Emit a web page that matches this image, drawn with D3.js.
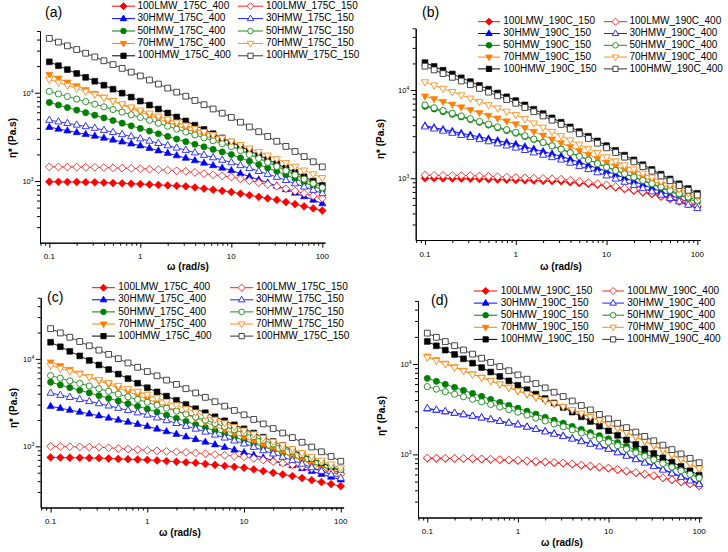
<!DOCTYPE html>
<html><head><meta charset="utf-8">
<script src="https://cdn.jsdelivr.net/npm/d3@7"></script>
<style>
body{margin:0;background:#fff}
svg{display:block}
text{font-family:"Liberation Sans",Arial,Helvetica,sans-serif;fill:#000}
</style>
</head><body>
<svg id="chart" width="728" height="552"></svg>
<script>
// ---------- data ----------
const omega = [0.1,0.126,0.158,0.2,0.251,0.316,0.398,0.501,0.631,0.794,1,1.26,1.58,2,2.51,3.16,3.98,5.01,6.31,7.94,10,12.6,15.8,20,25.1,31.6,39.8,50.1,63.1,79.4,100];
const xMajorTicks = [0.1,1,10,100];
const xTickLabels = ["0.1","1","10","100"];
const yMajorTicks = [1000,10000];
const yTickExponents = ["3","4"];
const materials = ["100LMW","30HMW","50HMW","70HMW","100HMW"];
const panelLabels = ["(a)","(b)","(c)","(d)"];
const panelTemps = ["175C","190C","175C","190C"];
const panelFilledRate = ["400","150","400","150"];
const panelOpenRate = ["150","400","150","400"];

// panel (a) 175C
const a_LMW400 = [980,978,976,974,970,966,957,948,940,931,923,912,902,891,881,871,845,820,796,773,750,719,690,662,635,610,577,546,516,489,462];
const a_LMW150 = [1445,1442,1439,1435,1432,1429,1419,1409,1400,1390,1380,1361,1343,1324,1306,1288,1250,1213,1178,1143,1109,1057,1007,959,914,871,818,769,723,679,638];
const a_30HMW400 = [4074,3890,3715,3548,3388,3236,3076,2924,2780,2642,2512,2355,2208,2070,1941,1820,1706,1600,1500,1406,1318,1216,1122,1035,955,881,804,733,668,610,556];
const a_30HMW150 = [4898,4699,4508,4325,4150,3981,3767,3565,3373,3192,3020,2844,2679,2523,2377,2239,2099,1968,1845,1730,1622,1503,1393,1291,1197,1109,1019,935,859,789,724];
const a_50HMW400 = [7762,7261,6792,6353,5943,5559,5188,4842,4519,4217,3936,3673,3428,3199,2985,2786,2606,2438,2280,2133,1995,1828,1675,1535,1406,1288,1169,1062,964,875,794];
const a_50HMW150 = [10350,9683,9057,8472,7925,7413,6918,6457,6026,5623,5248,4864,4508,4178,3873,3589,3327,3083,2858,2649,2455,2213,1995,1799,1622,1462,1309,1172,1050,940,841];
const a_70HMW400 = [16030,14520,13150,11910,10790,9772,8872,8054,7311,6637,6026,5521,5058,4634,4246,3890,3565,3266,2992,2742,2512,2265,2042,1841,1660,1496,1337,1194,1067,953,851];
const a_70HMW150 = [14130,13060,12080,11170,10330,9550,8790,8091,7447,6855,6310,5834,5395,4989,4613,4266,3926,3614,3327,3062,2818,2570,2344,2138,1950,1778,1611,1459,1321,1197,1084];
const a_100HMW400 = [22390,20230,18280,16520,14930,13490,12160,10960,9886,8913,8035,7244,6531,5888,5309,4786,4285,3837,3436,3076,2754,2460,2198,1963,1754,1567,1400,1250,1117,998,891];
const a_100HMW150 = [41210,37410,33960,30830,27990,25410,23010,20840,18880,17100,15490,13930,12530,11270,10140,9120,8166,7311,6546,5861,5248,4634,4093,3614,3192,2818,2466,2158,1888,1652,1445];

// panel (b) 190C
const b_LMW150 = [1000,998,995,993,991,989,982,975,968,962,955,948,942,935,929,923,902,881,861,841,822,787,753,721,690,661,619,581,545,511,479];
const b_LMW400 = [1084,1081,1079,1076,1074,1072,1062,1052,1042,1033,1023,1014,1005,995,986,977,948,920,893,867,841,805,771,738,706,676,632,592,553,518,484];
const b_30HMW150 = [3936,3750,3573,3404,3243,3090,2944,2805,2673,2547,2427,2280,2143,2014,1892,1778,1644,1521,1406,1300,1202,1102,1009,925,847,776,708,646,589,537,490];
const b_30HMW400 = [3846,3639,3443,3258,3083,2917,2761,2612,2472,2339,2213,2080,1954,1837,1726,1622,1493,1374,1265,1164,1072,986,908,836,769,708,649,594,545,499,457];
const b_50HMW150 = [6531,6095,5689,5309,4955,4624,4305,4009,3733,3475,3236,2979,2742,2523,2323,2138,1950,1778,1622,1479,1349,1233,1127,1030,942,861,783,713,649,590,537];
const b_50HMW400 = [6761,6295,5861,5458,5082,4732,4406,4102,3819,3556,3311,3034,2780,2547,2333,2138,1945,1770,1611,1466,1334,1225,1125,1033,948,871,798,731,670,614,562];
const b_70HMW150 = [8511,7925,7379,6871,6397,5957,5534,5140,4775,4436,4121,3733,3381,3062,2773,2512,2270,2051,1854,1675,1514,1374,1247,1132,1028,933,851,776,708,646,589];
const b_70HMW400 = [12300,11300,10380,9528,8750,8035,7379,6776,6223,5715,5248,4699,4207,3767,3373,3020,2704,2421,2168,1941,1738,1563,1406,1265,1138,1023,925,836,755,682,617];
const b_100HMW150 = [20420,18490,16750,15170,13740,12450,11270,10210,9247,8375,7586,6776,6053,5408,4831,4315,3819,3381,2992,2649,2344,2070,1828,1614,1426,1259,1112,982,867,766,676];
const b_100HMW400 = [18620,16900,15350,13930,12650,11480,10420,9462,8590,7798,7079,6339,5675,5082,4550,4074,3606,3192,2825,2500,2213,1959,1734,1535,1358,1202,1062,938,828,731,646];

// panel (c) 175C
const c_LMW400 = [748,745,741,740,736,733,726,719,713,706,700,689,678,667,656,646,630,614,598,583,569,545,521,499,478,457,434,411,390,370,351];
const c_LMW150 = [1000,995,991,986,982,977,962,946,931,916,902,889,877,865,853,841,824,807,791,774,759,728,698,670,643,617,587,558,532,506,482];
const c_30HMW400 = [2871,2729,2600,2472,2355,2239,2118,2004,1897,1795,1698,1585,1479,1380,1288,1202,1122,1047,977,912,851,794,741,692,646,603,560,519,482,447,415];
const c_30HMW150 = [4074,3855,3648,3451,3266,3090,2911,2742,2582,2432,2291,2128,1977,1837,1706,1585,1466,1355,1253,1159,1072,982,899,824,755,692,630,574,522,476,434];
const c_50HMW400 = [5408,5035,4699,4375,4083,3802,3540,3304,3076,2871,2673,2466,2270,2094,1928,1778,1637,1507,1387,1276,1175,1079,991,910,836,767,703,644,590,541,495];
const c_50HMW150 = [6442,6012,5610,5248,4898,4571,4256,3963,3681,3428,3192,2951,2729,2529,2339,2163,1991,1828,1683,1545,1422,1291,1175,1067,970,881,800,724,658,596,541];
const c_70HMW400 = [9162,8318,7534,6839,6194,5623,5105,4634,4207,3819,3467,3133,2831,2559,2312,2089,1888,1706,1542,1393,1259,1138,1028,929,839,759,687,622,562,509,461];
const c_70HMW150 = [8395,7780,7211,6699,6209,5754,5321,4932,4560,4227,3908,3565,3243,2958,2692,2455,2234,2028,1845,1675,1524,1380,1253,1135,1030,933,843,764,690,625,565];
const c_100HMW400 = [15490,13740,12190,10810,9594,8511,7551,6699,5943,5272,4677,4188,3750,3357,3006,2692,2421,2178,1959,1762,1585,1419,1271,1138,1019,912,815,728,650,581,519];
const c_100HMW150 = [22130,19770,17660,15780,14090,12590,11250,10050,8974,8017,7161,6397,5715,5105,4560,4074,3631,3236,2884,2570,2291,2032,1803,1600,1419,1259,1112,982,867,766,676];

// panel (d) 190C
const d_LMW150 = [902,899,897,895,893,891,883,875,867,859,851,839,828,817,805,794,774,755,736,718,700,673,647,622,598,575,547,519,493,468,445];
const d_LMW400 = [912,910,908,906,904,902,893,885,877,869,861,849,838,826,815,804,783,764,745,726,708,681,655,630,605,582,552,525,498,473,449];
const d_30HMW150 = [3199,3083,2972,2864,2761,2661,2547,2438,2333,2234,2138,2018,1905,1799,1698,1603,1503,1406,1318,1233,1156,1059,973,891,818,750,685,627,573,524,479];
const d_30HMW400 = [3236,3112,2992,2877,2767,2661,2547,2438,2333,2234,2138,2014,1897,1786,1683,1585,1486,1390,1303,1219,1143,1047,959,879,805,738,673,614,560,511,466];
const d_50HMW150 = [6950,6442,5957,5521,5105,4732,4385,4064,3776,3499,3243,3006,2786,2576,2388,2213,2046,1888,1746,1611,1489,1352,1230,1117,1016,923,836,757,685,621,562];
const d_50HMW400 = [5623,5272,4943,4634,4345,4074,3811,3573,3342,3133,2931,2723,2523,2344,2173,2018,1866,1726,1600,1479,1368,1250,1143,1042,953,871,794,724,659,601,548];
const d_70HMW150 = [12160,11120,10160,9290,8492,7762,7112,6516,5970,5470,5012,4624,4266,3936,3631,3350,3069,2812,2576,2360,2163,1936,1734,1552,1390,1245,1107,984,875,778,692];
const d_70HMW400 = [11890,10890,9977,9141,8375,7674,7063,6501,5984,5508,5070,4677,4315,3981,3673,3388,3105,2844,2606,2388,2188,1959,1754,1570,1406,1259,1119,995,885,787,700];
const d_100HMW150 = [17780,15920,14260,12760,11430,10230,9141,8166,7295,6516,5821,5200,4645,4150,3707,3311,2938,2606,2312,2051,1820,1622,1445,1288,1148,1023,916,820,735,658,589];
const d_100HMW400 = [21980,19770,17740,15960,14320,12880,11590,10420,9376,8433,7586,6792,6081,5445,4875,4365,3899,3475,3105,2767,2472,2208,1977,1766,1581,1413,1265,1130,1012,904,809];

// ---------- styling / layout ----------
const colors = ["#ff0000","#0000ff","#008000","#ff8000","#000000"];
const openColors = ["#ff2020","#2020ff","#1a8a1a","#ff8c1a","#333333"];
const markerKinds = ["diamond","triUp","circle","triDown","square"];

const panelFilled = [
  [a_LMW400,a_30HMW400,a_50HMW400,a_70HMW400,a_100HMW400],
  [b_LMW150,b_30HMW150,b_50HMW150,b_70HMW150,b_100HMW150],
  [c_LMW400,c_30HMW400,c_50HMW400,c_70HMW400,c_100HMW400],
  [d_LMW150,d_30HMW150,d_50HMW150,d_70HMW150,d_100HMW150]
];
const panelOpen = [
  [a_LMW150,a_30HMW150,a_50HMW150,a_70HMW150,a_100HMW150],
  [b_LMW400,b_30HMW400,b_50HMW400,b_70HMW400,b_100HMW400],
  [c_LMW150,c_30HMW150,c_50HMW150,c_70HMW150,c_100HMW150],
  [d_LMW400,d_30HMW400,d_50HMW400,d_70HMW400,d_100HMW400]
];

const layout = [
  {l:40,   r:325,   t:31,    b:242.7, lab:[45,13],   xt:[188,267], yt:[13,138],  leg:{y0:6.2,  dy:12.4, c1:[112,135,137.5], c2:[238,263,266]}},
  {l:415.7,r:700,   t:28.3,  b:240,   lab:[422,13],  xt:[561,267], yt:[381,139], leg:{y0:21.7, dy:11.8, c1:[478,500,503.3], c2:[604,627,629.5]}},
  {l:40.7, r:343.6, t:297.7, b:507.5, lab:[47,298],  xt:[180,533], yt:[14,408],  leg:{y0:287.7,dy:12.1, c1:[92,115,118.3],  c2:[230,253.3,256]}},
  {l:418,  r:701.8, t:300.9, b:517.5, lab:[431,301], xt:[562,543], yt:[382,416], leg:{y0:291,  dy:12.1, c1:[474,497.3,500.7],c2:[602.3,624,627.3]}}
];

const X_DOMAIN = [0.079, 107];
const Y_DOMAIN = [200, 50000];

function markerPath(kind){
  switch(kind){
    case "square": return "M-2.9,-2.9H2.9V2.9H-2.9Z";
    case "circle": return "M3.1,0A3.1,3.1 0 1,1 -3.1,0A3.1,3.1 0 1,1 3.1,0Z";
    case "triUp": return "M0,-4L3.6,2.3L-3.6,2.3Z";
    case "triDown": return "M0,4L3.6,-2.3L-3.6,-2.3Z";
    case "diamond": return "M0,-3.9L3.9,0L0,3.9L-3.9,0Z";
  }
}

const svg = d3.select("#chart");

layout.forEach((L, pi) => {
  const x = d3.scaleLog().domain(X_DOMAIN).range([L.l, L.r]);
  const y = d3.scaleLog().domain(Y_DOMAIN).range([L.b, L.t]);
  const g = svg.append("g");

  const xMinor = [];
  [0.01,0.1,1,10].forEach(dec => { for(let m=2;m<=9;m++){ const v=dec*m; if(v>=X_DOMAIN[0] && v<=X_DOMAIN[1] && !xMajorTicks.includes(v)) xMinor.push(v);} });
  const yMinor = [];
  [100,1000,10000].forEach(dec => { for(let m=2;m<=9;m++){ const v=dec*m; if(v>Y_DOMAIN[0] && v<=Y_DOMAIN[1]) yMinor.push(v);} });

  const xAxisMinor = d3.axisBottom(x).tickValues(xMinor).tickFormat("").tickSize(3).tickSizeOuter(0);
  const xAxisMajor = d3.axisBottom(x).tickValues(xMajorTicks).tickFormat("").tickSize(5).tickSizeOuter(0);
  const yAxisMinor = d3.axisLeft(y).tickValues(yMinor).tickFormat("").tickSize(3).tickSizeOuter(0);
  const yAxisMajor = d3.axisLeft(y).tickValues(yMajorTicks).tickFormat("").tickSize(5).tickSizeOuter(0);

  [xAxisMinor, xAxisMajor].forEach(ax => {
    const a = g.append("g").attr("transform", `translate(0,${L.b})`).call(ax);
    a.select(".domain").attr("stroke","#000").attr("stroke-width",1);
    a.selectAll(".tick line").attr("stroke","#000").attr("stroke-width",1);
  });
  [yAxisMinor, yAxisMajor].forEach(ax => {
    const a = g.append("g").attr("transform", `translate(${L.l},0)`).call(ax);
    a.select(".domain").attr("stroke","#000").attr("stroke-width",1);
    a.selectAll(".tick line").attr("stroke","#000").attr("stroke-width",1);
  });

  xMajorTicks.forEach((v,i) => {
    g.append("text").attr("x", x(v)).attr("y", L.b + 14.5)
      .attr("text-anchor","middle").attr("dominant-baseline","middle")
      .attr("font-size", 8).attr("fill","#222").text(xTickLabels[i]);
  });
  yMajorTicks.forEach((v,i) => {
    const t = g.append("text").attr("x", L.l - 6.5).attr("y", y(v) + 3)
      .attr("text-anchor","end").attr("font-size", 7.5).attr("fill","#222");
    t.append("tspan").text("10");
    t.append("tspan").attr("dy",-3).attr("font-size",5).text(yTickExponents[i]);
  });

  g.append("text").attr("x", L.xt[0]).attr("y", L.xt[1]).attr("text-anchor","middle")
    .attr("dominant-baseline","middle").attr("font-size", 10).attr("font-weight","bold").text("ω (rad/s)");
  g.append("text").attr("transform", `translate(${L.yt[0]},${L.yt[1]}) rotate(-90)`)
    .attr("text-anchor","middle").attr("dominant-baseline","middle")
    .attr("font-size", 10).attr("font-weight","bold").text("η* (Pa.s)");

  g.append("text").attr("x", L.lab[0]).attr("y", L.lab[1]).attr("dominant-baseline","middle")
    .attr("font-size", 14).text(panelLabels[pi]);

  const line = d3.line().x((d,i) => x(omega[i])).y(d => y(d));

  function drawSeries(data, mi, filled){
    const col = filled ? colors[mi] : openColors[mi];
    g.append("path").datum(data).attr("d", line).attr("fill","none")
      .attr("stroke", col).attr("stroke-width", 0.9);
    g.append("g").selectAll("path").data(data).join("path")
      .attr("d", markerPath(markerKinds[mi]))
      .attr("transform", (d,i) => `translate(${x(omega[i])},${y(d)})`)
      .attr("fill", filled ? col : "#fff")
      .attr("stroke", col).attr("stroke-width", filled ? 0.6 : 0.9);
  }
  panelFilled[pi].forEach((data, mi) => drawSeries(data, mi, true));
  panelOpen[pi].forEach((data, mi) => drawSeries(data, mi, false));

  materials.forEach((mat, mi) => {
    const ly = L.leg.y0 + mi * L.leg.dy;
    [[L.leg.c1, true, panelFilledRate[pi]], [L.leg.c2, false, panelOpenRate[pi]]].forEach(([c, filled, rate]) => {
      const col = filled ? colors[mi] : openColors[mi];
      g.append("line").attr("x1", c[0]).attr("x2", c[1]).attr("y1", ly).attr("y2", ly)
        .attr("stroke", col).attr("stroke-width", 1);
      g.append("path").attr("d", markerPath(markerKinds[mi]))
        .attr("transform", `translate(${(c[0]+c[1])/2},${ly}) scale(0.9)`)
        .attr("fill", filled ? col : "#fff").attr("stroke", col).attr("stroke-width", 1);
      g.append("text").attr("x", c[2]).attr("y", ly).attr("dominant-baseline","middle")
        .attr("font-size", 10).text(`${mat}_${panelTemps[pi]}_${rate}`);
    });
  });
});
</script>
</body></html>
